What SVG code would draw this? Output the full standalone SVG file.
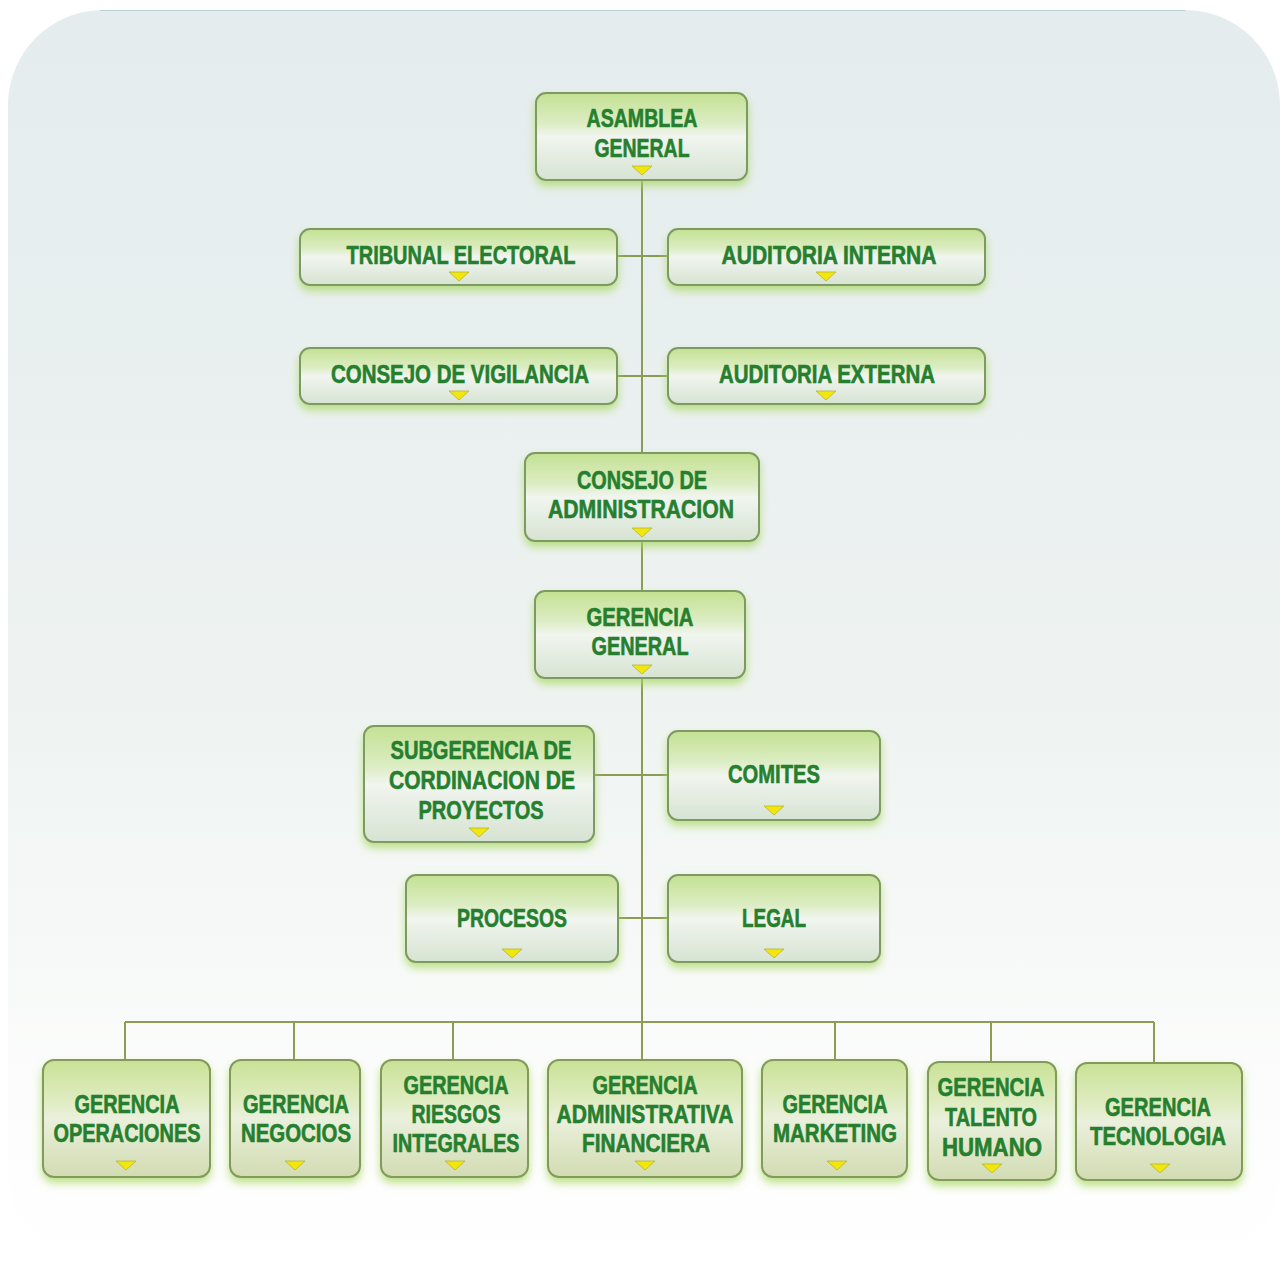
<svg xmlns="http://www.w3.org/2000/svg" xmlns:xlink="http://www.w3.org/1999/xlink" width="1283" height="1270" viewBox="0 0 1283 1270">
<defs>
<linearGradient id="bg" x1="0" y1="0" x2="0" y2="1">
<stop offset="0" stop-color="#e4ecee"/>
<stop offset="0.55" stop-color="#eef3f1"/>
<stop offset="0.85" stop-color="#fbfcfb"/>
<stop offset="1" stop-color="#ffffff"/>
</linearGradient>
<linearGradient id="ng" x1="0" y1="0" x2="0" y2="1">
<stop offset="0" stop-color="#c4e192"/>
<stop offset="0.35" stop-color="#dcedc4"/>
<stop offset="0.5" stop-color="#f1f5ef"/>
<stop offset="1" stop-color="#d6e3d2"/>
</linearGradient>
<linearGradient id="ng2" x1="0" y1="0" x2="0" y2="1">
<stop offset="0" stop-color="#c9e295"/>
<stop offset="0.35" stop-color="#dfecc2"/>
<stop offset="0.5" stop-color="#eaf0dc"/>
<stop offset="1" stop-color="#d2dcb2"/>
</linearGradient>
<filter id="glow" x="-20%" y="-30%" width="140%" height="170%">
<feGaussianBlur in="SourceAlpha" stdDeviation="4"/>
<feOffset dy="5" result="b"/>
<feFlood flood-color="#a8d860" flood-opacity="0.75"/>
<feComposite in2="b" operator="in"/>
<feMerge><feMergeNode/><feMergeNode in="SourceGraphic"/></feMerge>
</filter>
<path id="tri" d="M-10,0 L10,0 L0,9 Z" fill="#f2e60a" stroke="#b4b43a" stroke-width="0.8"/>
</defs>
<style>
.box{fill:url(#ng);stroke:#7d9a62;stroke-width:2;filter:url(#glow)}
.box2{fill:url(#ng2);stroke:#849a5c;stroke-width:2;filter:url(#glow)}
.t{font-family:"Liberation Sans",Arial,sans-serif;font-weight:bold;font-size:25px;fill:#267f2e;stroke:#267f2e;stroke-width:0.6;text-anchor:middle}
.c{stroke:#8c9c52;stroke-width:2;fill:none}
</style>
<rect x="8" y="10" width="1272" height="1256" rx="95" fill="url(#bg)"/>
<path d="M100,10.5 H1185" stroke="#b9d2d5" stroke-width="1.2"/>

<g id="connectors">
<path class="c" d="M642,180 V1022"/>
<path class="c" d="M617,256 H668"/>
<path class="c" d="M617,376 H668"/>
<path class="c" d="M594,775 H668"/>
<path class="c" d="M618,918 H668"/>
<path class="c" d="M125,1022 H1154"/>
<path class="c" d="M125,1022 V1060 M294,1022 V1060 M453,1022 V1060 M642,1022 V1060 M835,1022 V1060 M991,1022 V1062 M1154,1022 V1063"/>
</g>

<g id="asamblea-general">
<rect class="box" x="536" y="93" width="211" height="87" rx="10"/>
<text class="t" x="642" y="127" textLength="111" lengthAdjust="spacingAndGlyphs">ASAMBLEA</text>
<text class="t" x="642" y="157" textLength="95" lengthAdjust="spacingAndGlyphs">GENERAL</text>
<use xlink:href="#tri" x="642" y="166"/>
</g>
<g id="tribunal-electoral">
<rect class="box" x="300" y="229" width="317" height="56" rx="10"/>
<text class="t" x="461" y="264" textLength="229" lengthAdjust="spacingAndGlyphs">TRIBUNAL ELECTORAL</text>
<use xlink:href="#tri" x="459" y="272"/>
</g>
<g id="auditoria-interna">
<rect class="box" x="668" y="229" width="317" height="56" rx="10"/>
<text class="t" x="829" y="264" textLength="215" lengthAdjust="spacingAndGlyphs">AUDITORIA INTERNA</text>
<use xlink:href="#tri" x="826" y="272"/>
</g>
<g id="consejo-vigilancia">
<rect class="box" x="300" y="348" width="317" height="56" rx="10"/>
<text class="t" x="460" y="383" textLength="258" lengthAdjust="spacingAndGlyphs">CONSEJO DE VIGILANCIA</text>
<use xlink:href="#tri" x="459" y="391"/>
</g>
<g id="auditoria-externa">
<rect class="box" x="668" y="348" width="317" height="56" rx="10"/>
<text class="t" x="827" y="383" textLength="216" lengthAdjust="spacingAndGlyphs">AUDITORIA EXTERNA</text>
<use xlink:href="#tri" x="826" y="391"/>
</g>
<g id="consejo-administracion">
<rect class="box" x="525" y="453" width="234" height="88" rx="10"/>
<text class="t" x="642" y="489" textLength="130" lengthAdjust="spacingAndGlyphs">CONSEJO DE</text>
<text class="t" x="641" y="518" textLength="186" lengthAdjust="spacingAndGlyphs">ADMINISTRACION</text>
<use xlink:href="#tri" x="642" y="528"/>
</g>
<g id="gerencia-general">
<rect class="box" x="535" y="591" width="210" height="87" rx="10"/>
<text class="t" x="640" y="626" textLength="107" lengthAdjust="spacingAndGlyphs">GERENCIA</text>
<text class="t" x="640" y="655" textLength="97" lengthAdjust="spacingAndGlyphs">GENERAL</text>
<use xlink:href="#tri" x="642" y="665"/>
</g>
<g id="subgerencia">
<rect class="box" x="364" y="726" width="230" height="116" rx="10"/>
<text class="t" x="481" y="759" textLength="181" lengthAdjust="spacingAndGlyphs">SUBGERENCIA DE</text>
<text class="t" x="482" y="789" textLength="186" lengthAdjust="spacingAndGlyphs">CORDINACION DE</text>
<text class="t" x="481" y="819" textLength="125" lengthAdjust="spacingAndGlyphs">PROYECTOS</text>
<use xlink:href="#tri" x="479" y="828"/>
</g>
<g id="comites">
<rect class="box" x="668" y="731" width="212" height="89" rx="10"/>
<text class="t" x="774" y="783" textLength="92" lengthAdjust="spacingAndGlyphs">COMITES</text>
<use xlink:href="#tri" x="774" y="806"/>
</g>
<g id="procesos">
<rect class="box" x="406" y="875" width="212" height="87" rx="10"/>
<text class="t" x="512" y="927" textLength="110" lengthAdjust="spacingAndGlyphs">PROCESOS</text>
<use xlink:href="#tri" x="512" y="949"/>
</g>
<g id="legal">
<rect class="box" x="668" y="875" width="212" height="87" rx="10"/>
<text class="t" x="774" y="927" textLength="64" lengthAdjust="spacingAndGlyphs">LEGAL</text>
<use xlink:href="#tri" x="774" y="949"/>
</g>

<g id="gerencia-operaciones">
<rect class="box2" x="43" y="1060" width="167" height="117" rx="11"/>
<text class="t" x="127" y="1113" textLength="105" lengthAdjust="spacingAndGlyphs">GERENCIA</text>
<text class="t" x="127" y="1142" textLength="147" lengthAdjust="spacingAndGlyphs">OPERACIONES</text>
<use xlink:href="#tri" x="126" y="1161"/>
</g>
<g id="gerencia-negocios">
<rect class="box2" x="230" y="1060" width="130" height="117" rx="11"/>
<text class="t" x="296" y="1113" textLength="106" lengthAdjust="spacingAndGlyphs">GERENCIA</text>
<text class="t" x="296" y="1142" textLength="110" lengthAdjust="spacingAndGlyphs">NEGOCIOS</text>
<use xlink:href="#tri" x="295" y="1161"/>
</g>
<g id="gerencia-riesgos">
<rect class="box2" x="381" y="1060" width="147" height="117" rx="11"/>
<text class="t" x="456" y="1094" textLength="105" lengthAdjust="spacingAndGlyphs">GERENCIA</text>
<text class="t" x="456" y="1123" textLength="89" lengthAdjust="spacingAndGlyphs">RIESGOS</text>
<text class="t" x="456" y="1152" textLength="127" lengthAdjust="spacingAndGlyphs">INTEGRALES</text>
<use xlink:href="#tri" x="455" y="1161"/>
</g>
<g id="gerencia-administrativa">
<rect class="box2" x="548" y="1060" width="194" height="117" rx="11"/>
<text class="t" x="645" y="1094" textLength="105" lengthAdjust="spacingAndGlyphs">GERENCIA</text>
<text class="t" x="645" y="1123" textLength="177" lengthAdjust="spacingAndGlyphs">ADMINISTRATIVA</text>
<text class="t" x="646" y="1152" textLength="128" lengthAdjust="spacingAndGlyphs">FINANCIERA</text>
<use xlink:href="#tri" x="645" y="1161"/>
</g>
<g id="gerencia-marketing">
<rect class="box2" x="762" y="1060" width="145" height="117" rx="11"/>
<text class="t" x="835" y="1113" textLength="105" lengthAdjust="spacingAndGlyphs">GERENCIA</text>
<text class="t" x="835" y="1142" textLength="124" lengthAdjust="spacingAndGlyphs">MARKETING</text>
<use xlink:href="#tri" x="837" y="1161"/>
</g>
<g id="gerencia-talento">
<rect class="box2" x="928" y="1062" width="128" height="118" rx="11"/>
<text class="t" x="991" y="1096" textLength="107" lengthAdjust="spacingAndGlyphs">GERENCIA</text>
<text class="t" x="991" y="1126" textLength="92" lengthAdjust="spacingAndGlyphs">TALENTO</text>
<text class="t" x="992" y="1156" textLength="100" lengthAdjust="spacingAndGlyphs">HUMANO</text>
<use xlink:href="#tri" x="992" y="1164"/>
</g>
<g id="gerencia-tecnologia">
<rect class="box2" x="1076" y="1063" width="166" height="117" rx="11"/>
<text class="t" x="1158" y="1116" textLength="106" lengthAdjust="spacingAndGlyphs">GERENCIA</text>
<text class="t" x="1158" y="1145" textLength="136" lengthAdjust="spacingAndGlyphs">TECNOLOGIA</text>
<use xlink:href="#tri" x="1160" y="1164"/>
</g>
</svg>
